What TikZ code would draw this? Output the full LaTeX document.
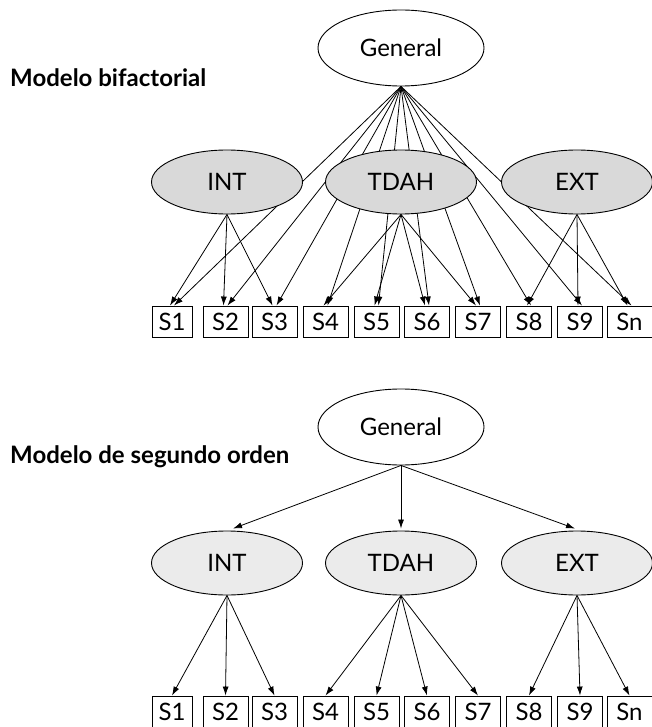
\documentclass[tikz,border=0pt]{standalone}
\usepackage{fontspec}
\setmainfont{Lato}
\usetikzlibrary{arrows.meta, shapes.geometric}
\definecolor{grisfac}{RGB}{217,217,217}
\definecolor{grisclaro}{RGB}{235,235,235}

\begin{document}
\begin{tikzpicture}[x=1pt, y=-1pt,
        every node/.style={font=\fontsize{24}{28}\selectfont},
        gen/.style={ellipse, draw, line width=0.9pt, fill=white,
                    minimum width=166pt, minimum height=76pt, inner sep=0pt},
        fac/.style={ellipse, draw, line width=0.9pt, fill=grisfac,
                    minimum width=151pt, minimum height=64pt, inner sep=0pt},
        ind/.style={rectangle, draw, line width=0.9pt, minimum width=45pt,
                    minimum height=31pt, inner sep=0pt},
        titulo/.style={anchor=west, inner sep=0pt, font=\fontsize{24}{28}\selectfont\bfseries},
        arr/.style={-{Latex[length=9pt,width=6pt]}, line width=0.8pt}
    ]
    \useasboundingbox (0,0) rectangle (652,727);

    % Modelo bifactorial
    \node[titulo] (t1) at (10,78) {Modelo bifactorial};
    \node[gen] (g1) at (401,48) {General};
    \node[ind, minimum width=40pt] (bs1) at (172,321.5) {S1};
    \node[ind] (bs2) at (225.5,321.5) {S2};
    \node[ind] (bs3) at (274.5,321.5) {S3};
    \node[ind] (bs4) at (325.5,321.5) {S4};
    \node[ind] (bs5) at (376.5,321.5) {S5};
    \node[ind] (bs6) at (427,321.5)   {S6};
    \node[ind] (bs7) at (478,321.5)   {S7};
    \node[ind] (bs8) at (529,321.5)   {S8};
    \node[ind] (bs9) at (580,321.5)   {S9};
    \node[ind] (bsn) at (629.5,321.5) {Sn};
    % las lineas del factor general pasan por detras de los especificos
    \foreach \s in {1,...,9,n}
        \draw[arr] (g1.south) -- ([xshift=2pt]bs\s.north);
    \node[fac] (int1)  at (227,182) {INT};
    \node[fac] (tdah1) at (401,182) {TDAH};
    \node[fac] (ext1)  at (577,182) {EXT};
    \draw[arr] (int1.south)  -- ([xshift=-2pt]bs1.north);
    \draw[arr] (int1.south)  -- ([xshift=-2pt]bs2.north);
    \draw[arr] (int1.south)  -- ([xshift=-2pt]bs3.north);
    \draw[arr] (tdah1.south) -- ([xshift=-2pt]bs4.north);
    \draw[arr] (tdah1.south) -- ([xshift=-2pt]bs5.north);
    \draw[arr] (tdah1.south) -- ([xshift=-2pt]bs6.north);
    \draw[arr] (tdah1.south) -- ([xshift=-2pt]bs7.north);
    \draw[arr] (ext1.south)  -- ([xshift=-2pt]bs8.north);
    \draw[arr] (ext1.south)  -- ([xshift=-2pt]bs9.north);
    \draw[arr] (ext1.south)  -- ([xshift=-2pt]bsn.north);

    % Modelo de segundo orden
    \node[titulo] (t2) at (10,457) {Modelo de segundo orden};
    \node[gen] (g2) at (401,427) {General};
    \node[fac, fill=grisclaro] (int2)  at (227,563) {INT};
    \node[fac, fill=grisclaro] (tdah2) at (401,563) {TDAH};
    \node[fac, fill=grisclaro] (ext2)  at (577,563) {EXT};
    \node[ind, minimum width=40pt] (os1) at (172,711.5) {S1};
    \node[ind] (os2) at (225.5,711.5) {S2};
    \node[ind] (os3) at (274.5,711.5) {S3};
    \node[ind] (os4) at (325.5,711.5) {S4};
    \node[ind] (os5) at (376.5,711.5) {S5};
    \node[ind] (os6) at (427,711.5)   {S6};
    \node[ind] (os7) at (478,711.5)   {S7};
    \node[ind] (os8) at (529,711.5)   {S8};
    \node[ind] (os9) at (580,711.5)   {S9};
    \node[ind] (osn) at (629.5,711.5) {Sn};
    \draw[arr] (g2.south) -- ([xshift=6pt,yshift=2pt]int2.north);
    \draw[arr] (g2.south) -- ([yshift=2pt]tdah2.north);
    \draw[arr] (g2.south) -- ([xshift=-2pt,yshift=2pt]ext2.north);
    \draw[arr] (int2.south)  -- (os1.north);
    \draw[arr] (int2.south)  -- (os2.north);
    \draw[arr] (int2.south)  -- (os3.north);
    \draw[arr] (tdah2.south) -- (os4.north);
    \draw[arr] (tdah2.south) -- (os5.north);
    \draw[arr] (tdah2.south) -- (os6.north);
    \draw[arr] (tdah2.south) -- (os7.north);
    \draw[arr] (ext2.south)  -- (os8.north);
    \draw[arr] (ext2.south)  -- (os9.north);
    \draw[arr] (ext2.south)  -- (osn.north);
\end{tikzpicture}
\end{document}
